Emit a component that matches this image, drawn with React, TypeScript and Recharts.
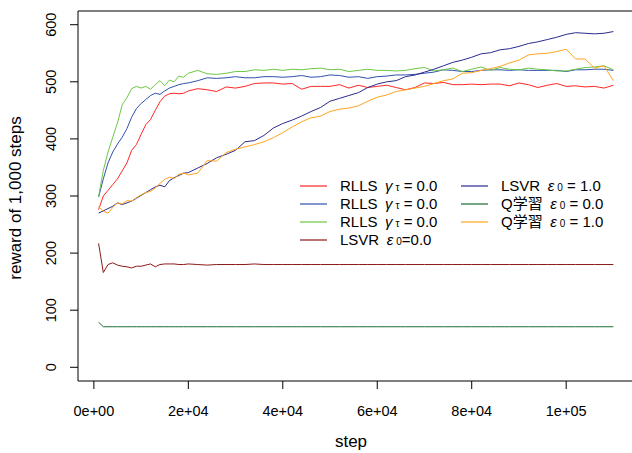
import { LineChart, Line, XAxis, YAxis, ReferenceArea, Legend } from "recharts"

// training steps (x)
const steps = [
  1000, 2000, 3000, 4000, 5000, 6000, 7000, 8000, 9000, 10000,
  11000, 12000, 13000, 14000, 15000, 16000, 17000, 18000, 19000, 20000,
  22000, 24000, 26000, 28000, 30000, 32000, 34000, 36000, 38000, 40000,
  42000, 44000, 46000, 48000, 50000, 52000, 54000, 56000, 58000, 60000,
  62000, 64000, 66000, 68000, 70000, 72000, 74000, 76000, 78000, 80000,
  82000, 84000, 86000, 88000, 90000, 92000, 94000, 96000, 98000, 100000,
  102000, 104000, 106000, 108000, 110000,
]

const rllsA = [
  276, 300, 310, 320, 330, 344, 358, 380, 390, 408, 425, 434, 450, 465, 475, 479, 480, 479, 480, 484,
  488, 486, 483, 491, 489, 492, 497, 498, 498, 496, 497, 487, 492, 492, 492, 495, 489, 494, 490, 492,
  494, 490, 486, 490, 498, 497, 499, 495, 495, 496, 495, 496, 496, 493, 498, 495, 490, 494, 497, 492,
  493, 491, 492, 489, 494,
]

const rllsB = [
  298, 330, 358, 377, 391, 403, 418, 438, 453, 462, 469, 476, 480, 478, 484, 489, 492, 495, 497, 498,
  502, 507, 506, 507, 509, 507, 507, 509, 509, 508, 509, 511, 508, 509, 512, 511, 508, 509, 506, 509,
  510, 512, 512, 513, 515, 517, 521, 520, 518, 518, 520, 521, 521, 520, 521, 520, 520, 520, 520, 518,
  521, 521, 522, 522, 520,
]

const rllsC = [
  299, 345, 377, 403, 428, 460, 472, 488, 492, 489, 492, 487, 495, 502, 493, 503, 500, 510, 508, 515,
  520, 514, 513, 515, 518, 518, 521, 520, 522, 520, 522, 521, 523, 524, 521, 522, 518, 520, 522, 520,
  520, 519, 520, 523, 525, 519, 521, 524, 518, 522, 526, 520, 525, 522, 521, 524, 522, 521, 519, 519,
  522, 525, 526, 528, 521,
]

const lsvr0 = [
  217, 166, 180, 183, 179, 177, 176, 174, 177, 177, 179, 181, 176, 180, 181, 181, 181, 180, 180, 181,
  180, 179, 180, 180, 180, 180, 181, 180, 180, 180, 180, 180, 180, 180, 180, 180, 180, 180, 180, 180,
  180, 180, 180, 180, 180, 180, 180, 180, 180, 180, 180, 180, 180, 180, 180, 180, 180, 180, 180, 180,
  180, 180, 180, 180, 180,
]

const lsvr1 = [
  270, 274, 278, 282, 288, 285, 288, 291, 296, 301, 306, 311, 316, 319, 316, 327, 332, 336, 340, 341,
  349, 357, 367, 373, 380, 395, 397, 406, 419, 427, 433, 440, 448, 455, 466, 471, 476, 481, 490, 496,
  500, 502, 509, 512, 517, 522, 528, 534, 538, 543, 549, 551, 556, 558, 562, 567, 570, 574, 578, 583,
  586, 585, 584, 585, 588,
]

const qlearn0 = [
  79, 71, 71, 71, 71, 71, 71, 71, 71, 71, 71, 71, 71, 71, 71, 71, 71, 71, 71, 71,
  71, 71, 71, 71, 71, 71, 71, 71, 71, 71, 71, 71, 71, 71, 71, 71, 71, 71, 71, 71,
  71, 71, 71, 71, 71, 71, 71, 71, 71, 71, 71, 71, 71, 71, 71, 71, 71, 71, 71, 71,
  71, 71, 71, 71, 71,
]

const qlearn1 = [
  282, 273, 270, 280, 288, 286, 292, 291, 297, 302, 306, 308, 314, 322, 329, 333, 331, 338, 340, 337,
  340, 362, 361, 376, 382, 386, 390, 395, 402, 411, 421, 430, 437, 440, 448, 452, 454, 458, 466, 473,
  477, 483, 486, 489, 492, 497, 502, 505, 515, 516, 520, 523, 527, 533, 538, 547, 549, 550, 553, 557,
  540, 540, 524, 528, 502,
]

const xTicks = [0, 20000, 40000, 60000, 80000, 100000]
const xTickLabels = ["0e+00", "2e+04", "4e+04", "6e+04", "8e+04", "1e+05"]
const yTicks = [0, 100, 200, 300, 400, 500, 600]

// legend text: [method, symbol, subscript, tail]
const series = [
  { key: "rllsA", values: rllsA, color: "#ff2626", label: ["RLLS", "γ", "τ", " = 0.0"] },
  { key: "rllsB", values: rllsB, color: "#3050b0", label: ["RLLS", "γ", "τ", " = 0.0"] },
  { key: "rllsC", values: rllsC, color: "#6cc844", label: ["RLLS", "γ", "τ", " = 0.0"] },
  { key: "lsvr0", values: lsvr0, color: "#8b1a1a", label: ["LSVR", "ε", "0", "=0.0"] },
  { key: "lsvr1", values: lsvr1, color: "#2b2b8f", label: ["LSVR", "ε", "0", " = 1.0"] },
  { key: "qlearn0", values: qlearn0, color: "#1f6b3a", label: ["Q学習", "ε", "0", " = 0.0"] },
  { key: "qlearn1", values: qlearn1, color: "#ffa51c", label: ["Q学習", "ε", "0", " = 1.0"] },
]

const data = steps.map((step, i) => {
  const row: Record<string, number> = { step }
  series.forEach((s) => {
    row[s.key] = s.values[i]
  })
  return row
})

const FONT = '"Liberation Sans", Arial, "Noto Sans CJK JP", sans-serif'
const X_DOMAIN = [-3360, 114360]
const Y_DOMAIN = [-24, 624]

function XTick(props: any) {
  const { x, payload } = props
  const i = xTicks.indexOf(payload.value)
  return (
    <text x={x} y={416} textAnchor="middle" fontSize={14.5} fontFamily={FONT} fill="#000">
      {xTickLabels[i]}
    </text>
  )
}

function YTick(props: any) {
  const { y, payload } = props
  return (
    <text x={56} y={y} transform={`rotate(-90, 56, ${y})`} textAnchor="middle" fontSize={14.5} fontFamily={FONT} fill="#000">
      {payload.value}
    </text>
  )
}

function LegendBox() {
  return (
    <div style={{ position: "relative", width: 340, height: 84, fontFamily: FONT, fontSize: 15, color: "#000" }}>
      {series.map((s, i) => {
        const col = i < 4 ? 0 : 1
        const row = i < 4 ? i : i - 4
        const left = col === 0 ? 10 : 171
        const top = 16 + row * 18
        return (
          <div key={s.key} style={{ position: "absolute", left, top: top - 9, height: 18, lineHeight: "18px", whiteSpace: "pre" }}>
            <svg width={27} height={18} style={{ position: "absolute", left: 0, top: 0 }}>
              <line x1={0} x2={27} y1={9} y2={9} stroke={s.color} strokeWidth={1.2} />
            </svg>
            <span style={{ marginLeft: 40 }}>{s.label[0]}</span>
            <span style={{ marginLeft: 7.5, fontStyle: "italic" }}>{s.label[1]}</span>
            <span style={{ marginLeft: 3, fontSize: 10 }}>{s.label[2]}</span>
            <span>{s.label[3]}</span>
          </div>
        )
      })}
    </div>
  )
}

export default function App() {
  return (
    <div style={{ position: "fixed", left: 0, top: 0, width: 632, height: 453, overflow: "hidden", background: "#fff" }}>
      <LineChart width={640} height={453} data={data} margin={{ top: 11, right: 6, left: 0, bottom: 0 }}>
        <XAxis
          dataKey="step"
          type="number"
          domain={X_DOMAIN}
          ticks={xTicks}
          interval={0}
          tick={XTick}
          tickSize={8}
          tickLine={{ stroke: "#000" }}
          axisLine={false}
          height={72}
          allowDataOverflow
          label={{
            content: () => (
              <text x={351} y={447} textAnchor="middle" fontSize={17} fontFamily={FONT} fill="#000">
                step
              </text>
            ),
          }}
        />
        <YAxis
          type="number"
          domain={Y_DOMAIN}
          ticks={yTicks}
          interval={0}
          tick={YTick}
          tickSize={8}
          tickLine={{ stroke: "#000" }}
          axisLine={false}
          width={78}
          allowDataOverflow
          label={{
            content: () => (
              <text x={21} y={198} transform="rotate(-90, 21, 198)" textAnchor="middle" fontSize={17} fontFamily={FONT} fill="#000">
                reward of 1,000 steps
              </text>
            ),
          }}
        />
        <ReferenceArea x1={X_DOMAIN[0]} x2={X_DOMAIN[1]} y1={Y_DOMAIN[0]} y2={Y_DOMAIN[1]} fill="none" stroke="#000" strokeWidth={1} />
        {series.map((s) => (
          <Line
            key={s.key}
            dataKey={s.key}
            type="linear"
            stroke={s.color}
            strokeWidth={1}
            dot={false}
            isAnimationActive={false}
          />
        ))}
        <Legend
          layout="vertical"
          align="center"
          verticalAlign="middle"
          wrapperStyle={{ left: 290, top: 170, width: 340, height: 84 }}
          content={LegendBox}
        />
      </LineChart>
    </div>
  )
}
